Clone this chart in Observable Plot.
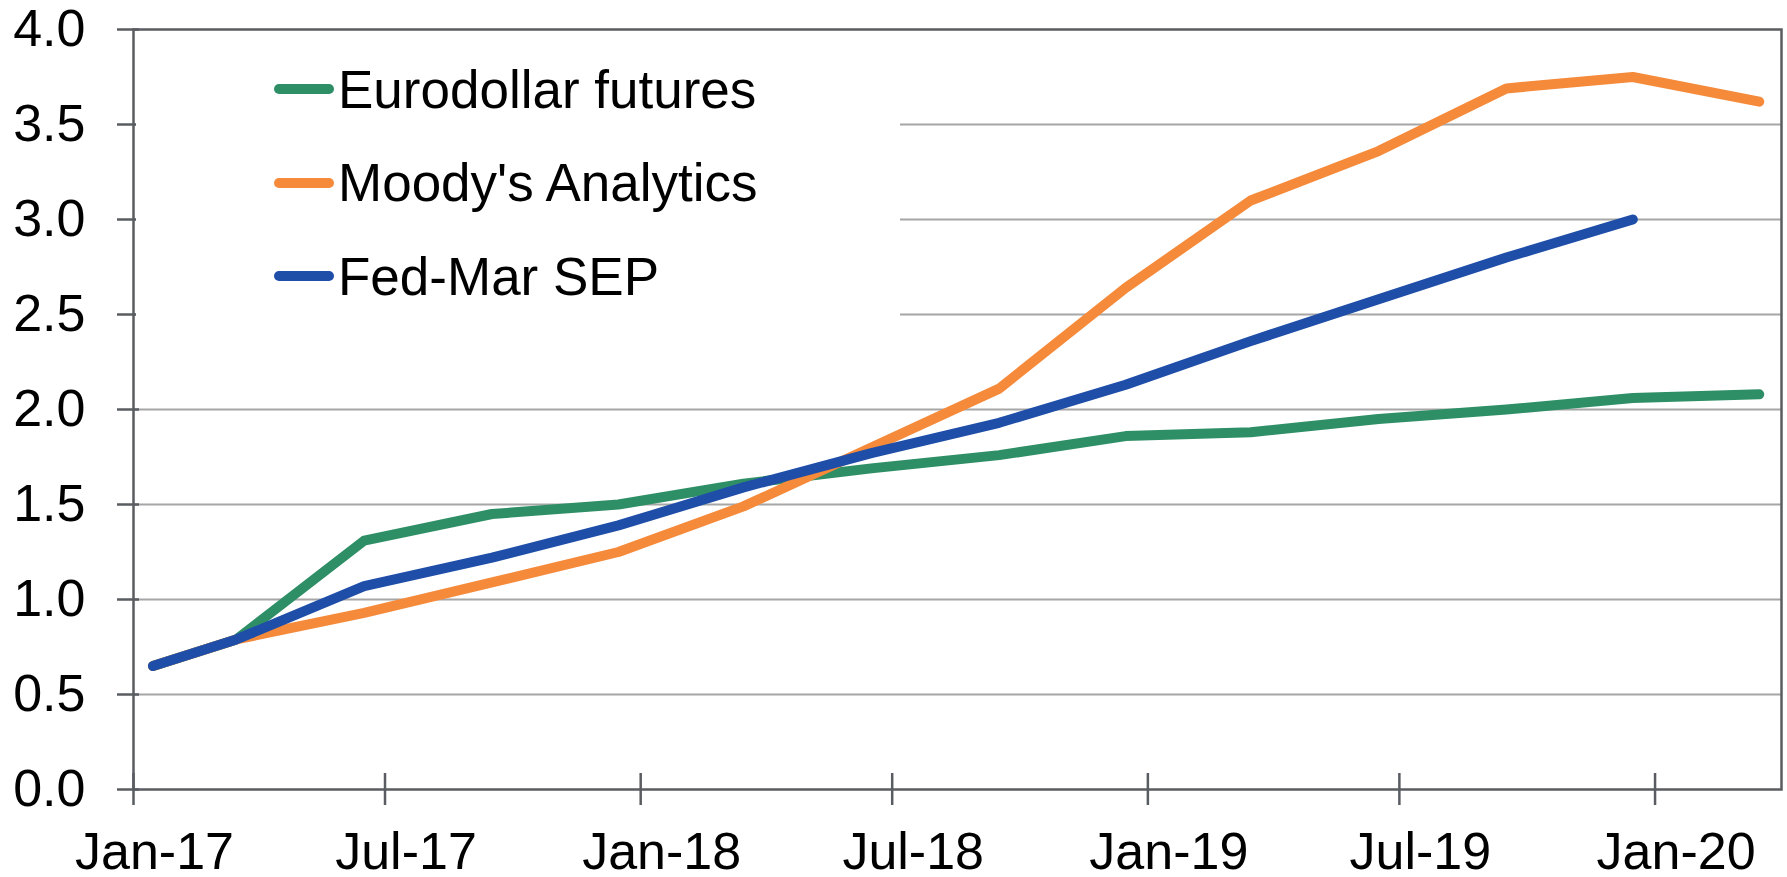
<!DOCTYPE html>
<html>
<head>
<meta charset="utf-8">
<script src="https://cdn.jsdelivr.net/npm/d3@7"></script>
<script src="https://cdn.jsdelivr.net/npm/@observablehq/plot@0.6"></script>
<style>
  html, body { margin: 0; padding: 0; background: #fff; }
  #wrap { position: relative; width: 1787px; height: 877px; font-family: 'Liberation Sans', Arial, sans-serif; }
  #legend { position: absolute; left: 136px; top: 31px; width: 764px; height: 290px; background: #fff; }
  .row { position: absolute; left: 138px; height: 60px; display: flex; align-items: center; font-size: 53px; color: #000; white-space: nowrap; }
  .sw { display: inline-block; width: 60px; height: 10px; border-radius: 5px; margin-right: 4px; }
</style>
</head>
<body>
<div id="wrap"></div>
<script>
// ---- data ----
const dates = ["2017-01-15","2017-03-16","2017-06-16","2017-09-16","2017-12-16","2018-03-16","2018-06-16","2018-09-16","2018-12-16","2019-03-16","2019-06-16","2019-09-16","2019-12-16","2020-03-16"];
const seriesNames = ["Eurodollar futures", "Moody's Analytics", "Fed-Mar SEP"];
const eurodollar = [0.65, 0.79, 1.31, 1.45, 1.50, 1.61, 1.69, 1.76, 1.86, 1.88, 1.95, 2.00, 2.06, 2.08];
const moodys     = [0.65, 0.79, 0.93, 1.09, 1.25, 1.49, 1.80, 2.11, 2.64, 3.10, 3.36, 3.69, 3.75, 3.62];
const fedSep     = [0.65, 0.79, 1.07, 1.22, 1.39, 1.59, 1.77, 1.93, 2.13, 2.36, 2.58, 2.80, 3.00];
const xTickDates = ["2017-01-01","2017-07-01","2018-01-01","2018-07-01","2019-01-01","2019-07-01","2020-01-01"];
const yTicks = [0, 0.5, 1.0, 1.5, 2.0, 2.5, 3.0, 3.5, 4.0];
const colors = ["#2e8f66", "#f58a3a", "#1f4ea8"];

// ---- build table ----
const values = [eurodollar, moodys, fedSep];
const rows = [];
values.forEach((arr, si) => arr.forEach((v, i) => rows.push({date: new Date(dates[i]), value: v, series: seriesNames[si]})));
const xt = xTickDates.map(d => new Date(d));
const axisColor = "#595c60";

const chart = Plot.plot({
  width: 1787,
  height: 877,
  marginLeft: 133,
  marginTop: 29,
  marginRight: 6,
  marginBottom: 88,
  style: {fontFamily: "'Liberation Sans', Arial, sans-serif", fontSize: "52px", background: "white", color: "black", overflow: "visible"},
  x: {type: "utc", domain: [new Date("2017-01-01"), new Date("2020-04-01")], label: null},
  y: {domain: [0, 4], label: null},
  color: {domain: seriesNames, range: colors},
  marks: [
    Plot.gridY(yTicks.filter(t => t > 0 && t < 4), {stroke: "#a6a6a6", strokeOpacity: 1, strokeWidth: 2}),
    Plot.frame({stroke: axisColor, strokeWidth: 2.5}),
    Plot.axisY(yTicks, {tickSize: 22, dx: 6, text: null, label: null, stroke: axisColor, strokeWidth: 2.5}),
    Plot.axisY(yTicks, {tickSize: 0, tickPadding: 48, tickFormat: d3.format(".1f"), fill: "black", label: null}),
    Plot.axisX(xt, {tickSize: 32, dy: -16, text: null, label: null, stroke: axisColor, strokeWidth: 2.5}),
    Plot.axisX(xt, {tickSize: 0, tickPadding: 43, dx: 21, tickFormat: d3.utcFormat("%b-%y"), fill: "black", label: null}),
    Plot.line(rows, {x: "date", y: "value", stroke: "series", z: "series", strokeWidth: 10, strokeLinecap: "round", strokeLinejoin: "round"})
  ]
});
const wrap = document.getElementById("wrap");
wrap.appendChild(chart);

// ---- legend (HTML overlay) ----
const legend = document.createElement("div");
legend.id = "legend";
seriesNames.forEach((name, i) => {
  const r = document.createElement("div");
  r.className = "row";
  r.style.top = (28 + i * 93.5) + "px";
  const sw = document.createElement("span");
  sw.className = "sw";
  sw.style.background = colors[i];
  r.appendChild(sw);
  r.appendChild(document.createTextNode(name));
  legend.appendChild(r);
});
wrap.appendChild(legend);
</script>
</body>
</html>
